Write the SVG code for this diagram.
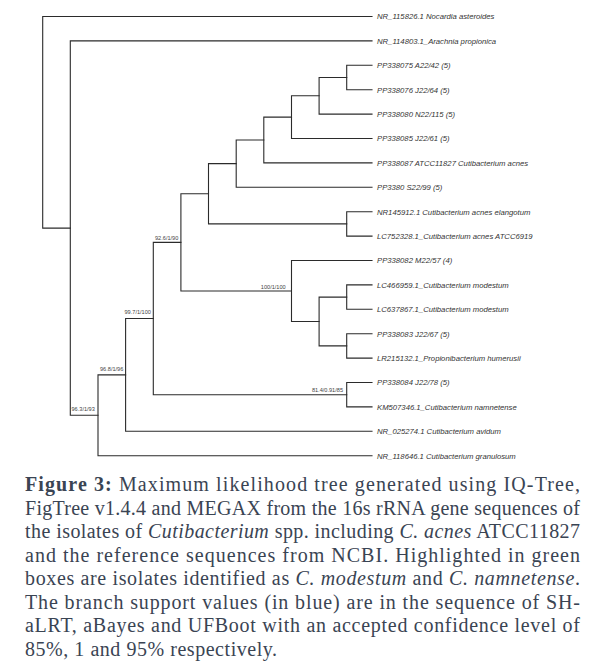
<svg xmlns="http://www.w3.org/2000/svg" width="605" height="672" viewBox="0 0 605 672">
<style>
.br{fill:none;stroke:#2b2b2b;stroke-width:1.1;stroke-linecap:square}
.lf{font-family:"Liberation Sans",Arial,sans-serif;font-style:italic;font-size:7.7px;fill:#333}
.sp{font-family:"Liberation Sans",Arial,sans-serif;font-size:5.6px;fill:#444}
.cap{font-family:"Liberation Serif","Times New Roman",serif;font-size:20px;fill:#3a4453}
.b{font-weight:bold}
.i{font-style:italic}
</style>
<rect width="605" height="672" fill="#fff"/>
<g id="connectors">
<path class="br" d="M42.7,16.5V228.1M42.7,16.5H372M42.7,228.1H70.3"/>
<path class="br" d="M70.3,40.9V415.3M70.3,40.9H372M70.3,415.3H98"/>
<path class="br" d="M98,374.9V455.7M98,374.9H125.6M98,455.7H372"/>
<path class="br" d="M125.6,318.55V431.3M125.6,318.55H153.3M125.6,431.3H372"/>
<path class="br" d="M153.3,242.4V394.7M153.3,242.4H180.9M153.3,394.7H346.7"/>
<path class="br" d="M346.7,382.5V406.9M346.7,382.5H372M346.7,406.9H372"/>
<path class="br" d="M180.9,193.8V291M180.9,193.8H208.5M180.9,291H291.5"/>
<path class="br" d="M208.5,163.65V223.9M208.5,163.65H236.2M208.5,223.9H346.7"/>
<path class="br" d="M346.7,211.7V236.1M346.7,211.7H372M346.7,236.1H372"/>
<path class="br" d="M236.2,140V187.3M236.2,140H263.8M236.2,187.3H372"/>
<path class="br" d="M263.8,117.15V162.9M263.8,117.15H291.5M263.8,162.9H372"/>
<path class="br" d="M291.5,95.8V138.5M291.5,95.8H319.1M291.5,138.5H372"/>
<path class="br" d="M319.1,77.5V114.1M319.1,77.5H346.7M319.1,114.1H372"/>
<path class="br" d="M346.7,65.3V89.7M346.7,65.3H372M346.7,89.7H372"/>
<path class="br" d="M291.5,260.5V321.5M291.5,260.5H372M291.5,321.5H319.1"/>
<path class="br" d="M319.1,297.1V345.9M319.1,297.1H346.7M319.1,345.9H346.7"/>
<path class="br" d="M346.7,284.9V309.3M346.7,284.9H372M346.7,309.3H372"/>
<path class="br" d="M346.7,333.7V358.1M346.7,333.7H372M346.7,358.1H372"/>
</g>
<g id="support">
<text class="sp" x="71.5" y="410.5">96.3/1/93</text>
<text class="sp" x="100" y="370.5">96.8/1/96</text>
<text class="sp" x="124.5" y="313.5">99.7/1/100</text>
<text class="sp" x="155" y="239.5">92.6/1/90</text>
<text class="sp" x="285.7" y="289" text-anchor="end">100/1/100</text>
<text class="sp" x="343" y="392" text-anchor="end">81.4/0.91/85</text>
</g>
<g id="leaf1"><text class="lf" x="377" y="19.3">NR_115826.1 Nocardia asteroides</text></g>
<g id="leaf2"><text class="lf" x="377" y="43.7">NR_114803.1_Arachnia propionica</text></g>
<g id="leaf3"><text class="lf" x="377" y="68.1">PP338075 A22/42 (5)</text></g>
<g id="leaf4"><text class="lf" x="377" y="92.5">PP338076 J22/64 (5)</text></g>
<g id="leaf5"><text class="lf" x="377" y="116.9">PP338080 N22/115 (5)</text></g>
<g id="leaf6"><text class="lf" x="377" y="141.3">PP338085 J22/61 (5)</text></g>
<g id="leaf7"><text class="lf" x="377" y="165.7">PP338087 ATCC11827 Cutibacterium acnes</text></g>
<g id="leaf8"><text class="lf" x="377" y="190.1">PP3380 S22/99 (5)</text></g>
<g id="leaf9"><text class="lf" x="377" y="214.5">NR145912.1 Cutibacterium acnes elangotum</text></g>
<g id="leaf10"><text class="lf" x="377" y="238.9">LC752328.1_Cutibacterium acnes ATCC6919</text></g>
<g id="leaf11"><text class="lf" x="377" y="263.3">PP338082 M22/57 (4)</text></g>
<g id="leaf12"><text class="lf" x="377" y="287.7">LC466959.1_Cutibacterium modestum</text></g>
<g id="leaf13"><text class="lf" x="377" y="312.1">LC637867.1_Cutibacterium modestum</text></g>
<g id="leaf14"><text class="lf" x="377" y="336.5">PP338083 J22/67 (5)</text></g>
<g id="leaf15"><text class="lf" x="377" y="360.9">LR215132.1_Propionibacterium humerusii</text></g>
<g id="leaf16"><text class="lf" x="377" y="385.3">PP338084 J22/78 (5)</text></g>
<g id="leaf17"><text class="lf" x="377" y="409.7">KM507346.1_Cutibacterium namnetense</text></g>
<g id="leaf18"><text class="lf" x="377" y="434.1">NR_025274.1 Cutibacterium avidum</text></g>
<g id="leaf19"><text class="lf" x="377" y="458.5">NR_118646.1 Cutibacterium granulosum</text></g>
<g id="caption">
<text class="cap" x="25" y="491" textLength="555" lengthAdjust="spacing"><tspan class="b">Figure 3:</tspan> Maximum likelihood tree generated using IQ-Tree,</text>
<text class="cap" x="25" y="514.5" textLength="555" lengthAdjust="spacing">FigTree v1.4.4 and MEGAX from the 16s rRNA gene sequences of</text>
<text class="cap" x="25" y="538" textLength="555" lengthAdjust="spacing">the isolates of <tspan class="i">Cutibacterium</tspan> spp. including <tspan class="i">C. acnes</tspan> ATCC11827</text>
<text class="cap" x="25" y="561.5" textLength="555" lengthAdjust="spacing">and the reference sequences from NCBI. Highlighted in green</text>
<text class="cap" x="25" y="585" textLength="555" lengthAdjust="spacing">boxes are isolates identified as <tspan class="i">C. modestum</tspan> and <tspan class="i">C. namnetense</tspan>.</text>
<text class="cap" x="25" y="608.5" textLength="555" lengthAdjust="spacing">The branch support values (in blue) are in the sequence of SH-</text>
<text class="cap" x="25" y="632" textLength="555" lengthAdjust="spacing">aLRT, aBayes and UFBoot with an accepted confidence level of</text>
<text class="cap" x="25" y="655.5" textLength="252" lengthAdjust="spacing">85%, 1 and 95% respectively.</text>
</g>
</svg>
